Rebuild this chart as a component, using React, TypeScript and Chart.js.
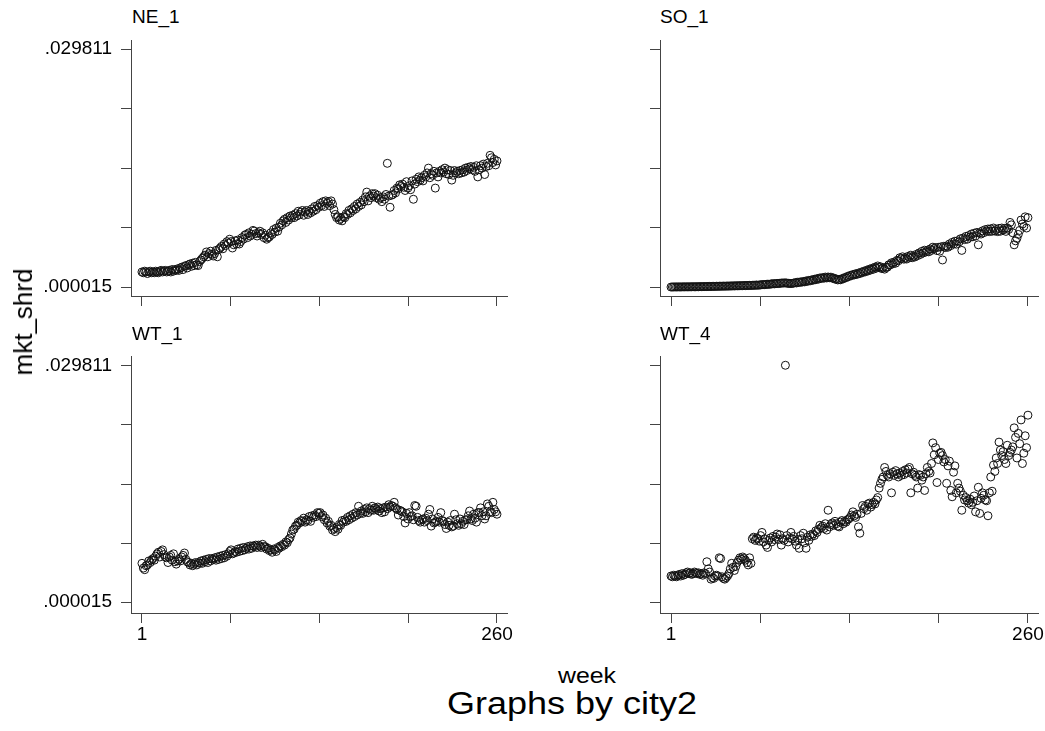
import React, { useEffect, useRef } from 'react';
import { Chart, registerables } from 'chart.js';

Chart.register(...registerables);

// ---------- data ----------
const WEEKS: number[] = Array.from({ length: 260 }, (_, i) => i + 1);

const X_TICKS = [1, 65.75, 130.5, 195.25, 260];
const X_TICK_LABELS = ['1', '', '', '', '260'];
const Y_TICKS = [0.000015, 0.007464, 0.014913, 0.022362, 0.029811];
const Y_TICK_LABELS = ['.000015', '', '', '', '.029811'];

const PANEL_TITLES = ['NE_1', 'SO_1', 'WT_1', 'WT_4'];

const NE_1 = [
  .0019, .0018, .0020, .0019, .0017, .0019, .0020, .0018, .0019, .0018,
  .0020, .0019, .0018, .0020, .0021, .0019, .0020, .0021, .0019, .0020,
  .0021, .0019, .0022, .0020, .0022, .0021, .0023, .0021, .0024, .0025,
  .0022, .0026, .0027, .0024, .0028, .0029, .0026, .0030, .0027, .0031,
  .0028, .0027, .0032, .0034, .0036, .0038, .0040, .0044, .0038, .0042,
  .0045, .0041, .0039, .0042, .0046, .0038, .0047, .0049, .0051, .0048,
  .0054, .0052, .0057, .0055, .0060, .0057, .0049, .0053, .0058, .0054,
  .0059, .0054, .0057, .0062, .0060, .0065, .0066, .0062, .0068, .0064,
  .0066, .0071, .0070, .0067, .0064, .0068, .0070, .0066, .0068, .0062,
  .0065, .0060, .0062, .0063, .0068, .0066, .0072, .0069, .0074, .0070,
  .0075, .0080, .0078, .0083, .0085, .0081, .0087, .0084, .0089, .0087,
  .0090, .0087, .0092, .0089, .0095, .0091, .0094, .0096, .0090, .0094,
  .0096, .0091, .0095, .0093, .0098, .0095, .0101, .0097, .0102, .0100,
  .0105, .0102, .0107, .0101, .0108, .0105, .0107, .0102, .0108, .0104,
  .0097, .0091, .0087, .0088, .0084, .0086, .0083, .0088, .0087, .0092,
  .0091, .0096, .0093, .0098, .0096, .0101, .0098, .0104, .0101, .0106,
  .0103, .0109, .0107, .0113, .0119, .0108, .0114, .0112, .0117, .0114,
  .0117, .0112, .0115, .0110, .0112, .0107, .0113, .0110, .0116, .0155,
  .0114, .0100, .0115, .0116, .0121, .0118, .0124, .0123, .0128, .0126,
  .0129, .0125, .0121, .0132, .0124, .0127, .0122, .0133, .0110, .0129,
  .0135, .0132, .0138, .0134, .0137, .0133, .0140, .0138, .0143, .0149,
  .0137, .0142, .0140, .0145, .0124, .0143, .0138, .0145, .0143, .0147,
  .0144, .0149, .0142, .0147, .0141, .0146, .0134, .0140, .0146, .0143,
  .0145, .0142, .0146, .0143, .0147, .0144, .0149, .0146, .0150, .0148,
  .0151, .0147, .0150, .0145, .0152, .0138, .0147, .0152, .0149, .0154,
  .0141, .0151, .0155, .0152, .0165, .0162, .0156, .0160, .0153, .0158,
];

const SO_1 = [
  .00001, .00002, .00002, .00003, .00002, .00003, .00003, .00002, .00003, .00004,
  .00003, .00004, .00004, .00003, .00005, .00004, .00005, .00005, .00004, .00006,
  .00005, .00006, .00006, .00007, .00006, .00008, .00007, .00008, .00009, .00008,
  .00009, .00010, .00009, .00011, .00010, .00012, .00011, .00012, .00013, .00012,
  .00013, .00014, .00013, .00015, .00014, .00016, .00015, .00017, .00016, .00018,
  .00017, .00019, .00018, .00020, .00019, .00021, .00020, .00022, .00021, .00023,
  .00022, .00024, .00025, .00024, .00026, .00028, .00030, .00032, .00031, .00034,
  .00036, .00035, .00038, .00040, .00042, .00041, .00044, .00046, .00045, .00048,
  .00050, .00052, .00051, .00054, .00050, .00048, .00046, .00045, .00047, .00050,
  .00056, .00052, .00061, .00058, .00066, .00062, .00071, .00066, .00078, .00072,
  .00085, .00079, .00091, .00086, .00099, .00093, .00107, .00100, .00115, .00108,
  .00120, .00112, .00126, .00115, .00127, .00118, .00125, .00112, .00114, .00100,
  .00102, .00090, .00096, .00092, .00106, .00104, .00120, .00118, .00134, .00132,
  .00147, .00144, .00158, .00153, .00168, .00160, .00176, .00170, .00188, .00182,
  .00200, .00192, .00212, .00203, .00225, .00215, .00237, .00225, .00250, .00238,
  .00265, .00246, .00255, .00232, .00242, .00225, .00248, .00250, .00280, .00278,
  .00305, .00292, .00315, .00300, .00335, .00330, .00368, .00355, .00380, .00350,
  .00368, .00352, .00385, .00372, .00400, .00368, .00390, .00378, .00410, .00395,
  .00428, .00410, .00448, .00428, .00462, .00440, .00458, .00442, .00478, .00460,
  .00500, .00482, .00495, .00458, .00498, .00450, .00505, .00340, .00512, .00495,
  .00515, .00500, .00540, .00520, .00560, .00540, .00575, .00538, .00580, .00565,
  .00605, .00460, .00615, .00595, .00635, .00600, .00645, .00625, .00665, .00630,
  .00675, .00640, .00685, .00530, .00680, .00665, .00705, .00682, .00720, .00700,
  .00728, .00695, .00730, .00700, .00740, .00702, .00722, .00695, .00735, .00700,
  .00740, .00715, .00735, .00698, .00740, .00722, .00810, .00780, .00680, .00530,
  .00580, .00610, .00660, .00710, .00840, .00790, .00760, .00880, .00740, .00870,
];

const WT_1 = [
  .0049, .0043, .0041, .0046, .0047, .0052, .0050, .0053, .0055, .0053,
  .0058, .0061, .0063, .0057, .0064, .0066, .0060, .0057, .0056, .0050,
  .0057, .0059, .0053, .0061, .0051, .0048, .0052, .0054, .0052, .0057,
  .0059, .0062, .0054, .0051, .0050, .0047, .0049, .0046, .0048, .0050,
  .0047, .0050, .0049, .0052, .0049, .0053, .0051, .0054, .0050, .0055,
  .0052, .0055, .0054, .0056, .0053, .0057, .0054, .0058, .0055, .0059,
  .0056, .0060, .0058, .0061, .0064, .0066, .0061, .0062, .0064, .0063,
  .0067, .0064, .0068, .0065, .0069, .0066, .0068, .0070, .0067, .0071,
  .0068, .0071, .0070, .0072, .0069, .0072, .0071, .0069, .0073, .0070,
  .0070, .0067, .0068, .0065, .0066, .0063, .0067, .0066, .0064, .0069,
  .0068, .0071, .0070, .0073, .0072, .0076, .0075, .0079, .0081, .0086,
  .0091, .0092, .0096, .0097, .0101, .0100, .0103, .0102, .0106, .0101,
  .0104, .0103, .0108, .0102, .0109, .0107, .0110, .0108, .0113, .0112,
  .0113, .0108, .0110, .0104, .0106, .0100, .0102, .0096, .0097, .0091,
  .0093, .0089, .0094, .0092, .0098, .0097, .0103, .0101, .0104, .0102,
  .0107, .0104, .0109, .0106, .0111, .0108, .0113, .0110, .0121, .0112,
  .0115, .0112, .0117, .0114, .0119, .0113, .0118, .0116, .0121, .0116,
  .0119, .0117, .0120, .0115, .0118, .0113, .0119, .0114, .0120, .0118,
  .0123, .0120, .0122, .0121, .0126, .0119, .0117, .0110, .0116, .0115,
  .0114, .0108, .0100, .0112, .0105, .0113, .0108, .0109, .0104, .0122,
  .0121, .0107, .0103, .0101, .0104, .0105, .0101, .0106, .0103, .0111,
  .0117, .0096, .0105, .0100, .0101, .0102, .0107, .0101, .0113, .0103,
  .0102, .0098, .0093, .0101, .0097, .0103, .0095, .0096, .0111, .0104,
  .0099, .0097, .0105, .0099, .0102, .0098, .0104, .0104, .0109, .0115,
  .0105, .0103, .0111, .0106, .0101, .0113, .0113, .0119, .0109, .0114,
  .0105, .0109, .0124, .0121, .0114, .0113, .0126, .0117, .0114, .0111,
];

const WT_4 = [
  .0033, .0032, .0034, .0033, .0032, .0034, .0035, .0033, .0036, .0034,
  .0035, .0037, .0038, .0036, .0037, .0035, .0036, .0038, .0037, .0036,
  .0037, .0035, .0036, .0034, .0037, .0036, .0051, .0042, .0038, .0029,
  .0031, .0030, .0033, .0034, .0033, .0056, .0055, .0032, .0030, .0029,
  .0031, .0033, .0036, .0042, .0049, .0044, .0040, .0045, .0050, .0053,
  .0056, .0054, .0057, .0055, .0053, .0050, .0047, .0056, .0049, .0080,
  .0082, .0078, .0081, .0080, .0077, .0084, .0088, .0076, .0080, .0072,
  .0069, .0078, .0081, .0076, .0083, .0079, .0082, .0086, .0079, .0085,
  .0072, .0080, .0078, .0299, .0084, .0076, .0081, .0088, .0080, .0083,
  .0077, .0072, .0079, .0068, .0084, .0080, .0087, .0075, .0068, .0082,
  .0078, .0085, .0083, .0086, .0084, .0090, .0088, .0092, .0097, .0094,
  .0096, .0093, .0099, .0091, .0116, .0095, .0098, .0100, .0097, .0102,
  .0099, .0096, .0095, .0101, .0103, .0099, .0102, .0101, .0104, .0105,
  .0107, .0110, .0114, .0109, .0107, .0111, .0095, .0087, .0112, .0122,
  .0118, .0121, .0116, .0124, .0125, .0120, .0123, .0126, .0124, .0129,
  .0132, .0144, .0150, .0155, .0158, .0170, .0165, .0160, .0158, .0162,
  .0138, .0164, .0160, .0166, .0162, .0158, .0163, .0160, .0165, .0161,
  .0167, .0163, .0168, .0170, .0138, .0162, .0164, .0160, .0158, .0144,
  .0161, .0160, .0154, .0158, .0141, .0162, .0170, .0165, .0163, .0175,
  .0201, .0186, .0195, .0151, .0180, .0188, .0189, .0185, .0177, .0180,
  .0150, .0172, .0178, .0141, .0133, .0164, .0172, .0138, .0150, .0144,
  .0140, .0116, .0135, .0129, .0132, .0128, .0125, .0130, .0123, .0126,
  .0134, .0114, .0128, .0145, .0112, .0131, .0138, .0135, .0129, .0128,
  .0109, .0138, .0158, .0140, .0173, .0165, .0182, .0175, .0202, .0192,
  .0185, .0190, .0180, .0175, .0198, .0185, .0189, .0192, .0196, .0220,
  .0208, .0182, .0213, .0200, .0230, .0175, .0188, .0210, .0195, .0236,
];

// ---------- styling / layout ----------
const FONT = "'Liberation Sans', Arial, Helvetica, sans-serif";
const AXIS_COLOR = '#444444';
const MARKER_COLOR = '#111111';

type PanelProps = {
  values: number[];
  left: number;
  top: number;
  width: number;
  height: number;
  yAxisWidth: number;
  padRight: number;
  showYLabels: boolean;
  showXLabels: boolean;
  yMin: number;
  yMax: number;
};

function Panel(p: PanelProps) {
  const ref = useRef<HTMLCanvasElement | null>(null);
  useEffect(() => {
    if (!ref.current) return;
    const chart = new Chart(ref.current, {
      type: 'scatter',
      data: {
        datasets: [
          {
            data: WEEKS.map((w, i) => ({ x: w, y: p.values[i] })),
            showLine: false,
            pointStyle: 'circle',
            pointRadius: 4,
            pointBorderWidth: 1,
            pointBorderColor: MARKER_COLOR,
            pointBackgroundColor: 'rgba(0,0,0,0)',
            borderColor: MARKER_COLOR,
            backgroundColor: 'rgba(0,0,0,0)',
          },
        ],
      },
      options: {
        animation: false,
        responsive: false,
        devicePixelRatio: 1,
        events: [],
        layout: { padding: { left: 0, top: 10, right: p.padRight, bottom: 0 } },
        plugins: {
          legend: { display: false },
          tooltip: { enabled: false },
          title: { display: false },
        },
        scales: {
          x: {
            type: 'linear',
            min: -7,
            max: 267.3,
            afterBuildTicks: (s: any) => {
              s.ticks = X_TICKS.map((v) => ({ value: v }));
            },
            afterFit: (s: any) => {
              s.height = 30;
              s.paddingLeft = 0;
              s.paddingRight = 0;
            },
            grid: {
              drawOnChartArea: false,
              drawTicks: true,
              tickLength: 10,
              color: AXIS_COLOR,
              lineWidth: 1,
            },
            border: { display: true, color: AXIS_COLOR, width: 1 },
            ticks: {
              autoSkip: false,
              maxRotation: 0,
              padding: 0,
              color: '#000',
              font: { family: FONT, size: 19 },
              callback: (_v: any, i: number) => (p.showXLabels ? X_TICK_LABELS[i] : ''),
            },
          },
          y: {
            type: 'linear',
            min: p.yMin,
            max: p.yMax,
            afterBuildTicks: (s: any) => {
              s.ticks = Y_TICKS.map((v) => ({ value: v }));
            },
            afterFit: (s: any) => {
              s.width = p.yAxisWidth;
              s.paddingTop = 0;
              s.paddingBottom = 0;
            },
            grid: {
              drawOnChartArea: false,
              drawTicks: true,
              tickLength: 10,
              color: AXIS_COLOR,
              lineWidth: 1,
            },
            border: { display: true, color: AXIS_COLOR, width: 1 },
            ticks: {
              autoSkip: false,
              padding: 9,
              color: '#000',
              font: { family: FONT, size: 19 },
              callback: (_v: any, i: number) => (p.showYLabels ? Y_TICK_LABELS[i] : ''),
            },
          },
        },
      },
    } as any);
    return () => chart.destroy();
  }, []);
  return (
    <canvas
      ref={ref}
      width={p.width}
      height={p.height}
      style={{
        position: 'absolute',
        left: p.left,
        top: p.top,
        width: p.width,
        height: p.height,
        display: 'block',
      }}
    />
  );
}

const textBase: React.CSSProperties = {
  position: 'absolute',
  fontFamily: FONT,
  color: '#000',
  whiteSpace: 'nowrap',
};

export default function App() {
  const topY = { yMin: -0.00111, yMax: 0.03094 };
  const botY = { yMin: -0.00137, yMax: 0.03107 };
  return (
    <div
      style={{
        position: 'absolute',
        left: 0,
        top: 0,
        width: 1045,
        height: 731,
        background: '#fff',
        overflow: 'hidden',
      }}
    >
      <Panel values={NE_1} left={0} top={30} width={520} height={296} yAxisWidth={131} padRight={13}
        showYLabels={true} showXLabels={false} {...topY} />
      <Panel values={SO_1} left={520} top={30} width={525} height={296} yAxisWidth={140} padRight={7}
        showYLabels={false} showXLabels={false} {...topY} />
      <Panel values={WT_1} left={0} top={346} width={520} height={297} yAxisWidth={131} padRight={13}
        showYLabels={true} showXLabels={true} {...botY} />
      <Panel values={WT_4} left={520} top={346} width={525} height={297} yAxisWidth={140} padRight={7}
        showYLabels={false} showXLabels={true} {...botY} />

      <div style={{ ...textBase, left: 132, top: 7, fontSize: 19, lineHeight: '19px' }}>{PANEL_TITLES[0]}</div>
      <div style={{ ...textBase, left: 660, top: 7, fontSize: 19, lineHeight: '19px' }}>{PANEL_TITLES[1]}</div>
      <div style={{ ...textBase, left: 132, top: 324, fontSize: 19, lineHeight: '19px' }}>{PANEL_TITLES[2]}</div>
      <div style={{ ...textBase, left: 660, top: 324, fontSize: 19, lineHeight: '19px' }}>{PANEL_TITLES[3]}</div>

      <div
        style={{
          ...textBase,
          left: 23,
          top: 322,
          fontSize: 26,
          lineHeight: '26px',
          transform: 'translate(-50%, -50%) rotate(-90deg)',
        }}
      >
        mkt_shrd
      </div>

      <div
        style={{
          ...textBase,
          left: 387,
          width: 400,
          top: 665,
          fontSize: 22,
          lineHeight: '22px',
          textAlign: 'center',
          transform: 'scaleX(1.13)',
        }}
      >
        week
      </div>

      <div
        style={{
          ...textBase,
          left: 272,
          width: 600,
          top: 688,
          fontSize: 31,
          lineHeight: '31px',
          textAlign: 'center',
          transform: 'scaleX(1.16)',
        }}
      >
        Graphs by city2
      </div>
    </div>
  );
}
